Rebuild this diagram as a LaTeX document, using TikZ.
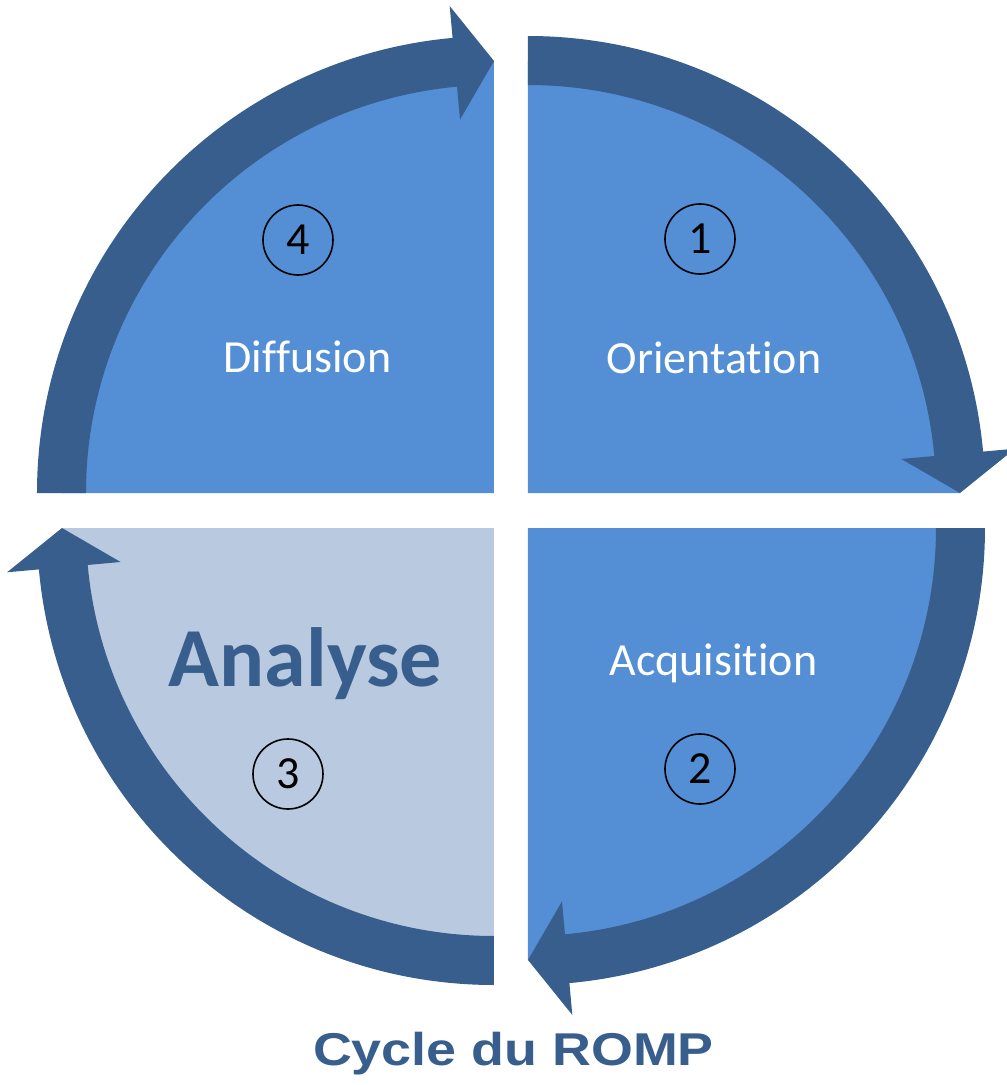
\documentclass[tikz,border=0pt]{standalone}
\usepackage{fontspec}
\setmainfont{Carlito}[Ligatures={NoCommon}]
\newfontfamily\titlefont{Liberation Sans Bold}[FakeStretch=1.17]
\usepackage{tikz}
\usetikzlibrary{calc}
\definecolor{ringblue}{RGB}{55,94,140}
\definecolor{quadblue}{RGB}{84,142,213}
\definecolor{paleblue}{RGB}{185,201,224}

\begin{document}
\begin{tikzpicture}
    [   x=1pt, y=1pt
    ,   stage/.style=
        {   anchor=base
        ,   inner sep=0pt
        ,   text=white
        ,   font=\fontsize{46}{50}\selectfont
        }
    ,   num/.style=
        {   draw
        ,   circle
        ,   line width=1.6pt
        ,   minimum size=70pt
        ,   inner sep=0pt
        ,   font=\fontsize{46}{50}\selectfont
        }
    ]
    \useasboundingbox (-511,-574.5) rectangle (496,510.5);
    % quarter disks
    \foreach\cx/\cy/\a/\col in {17/17.5/90/quadblue,17/-17.5/0/quadblue,-17/-17.5/-90/paleblue,-17/17.5/180/quadblue}
    {   \pgfmathsetmacro{\e}{\a-90}
        \fill[fill=\col] (\cx,\cy) -- ++(\e:432) arc[start angle=\e, end angle=\a, radius=432pt] -- cycle;
    }
    % ring arrows
    \foreach\cx/\cy/\a in {17/17.5/90,17/-17.5/0,-17/-17.5/-90,-17/17.5/180}
    {   \pgfmathsetmacro{\e}{\a-90}
        \pgfmathsetmacro{\h}{\e+5.2}
        \begin{scope}[shift={(\cx,\cy)}]
            \fill[ringblue]
            (\a:457pt)
                arc[start angle=\a, end angle=\h, radius=457pt]
            -- (\h:489pt) -- (\e:432pt) -- (\h:375pt) -- (\h:408pt)
                arc[start angle=\h, end angle=\a, radius=408pt]
            -- cycle;
        \end{scope}
    }
    \node[num] (N1) at (189,271.5) {1};
    \node[num] (N2) at (189,-258.5) {2};
    \node[num] (N3) at (-223,-263.5) {3};
    \node[num] (N4) at (-213,270.5) {4};
    \node[stage] (orient) at (203,137.5) {Orientation};
    \node[stage] (acq) at (202.5,-164.5) {Acquisition};
    \node[stage] (diff) at (-203.5,138.5) {Diffusion};
    \node[stage, text=ringblue, font=\fontsize{84}{90}\selectfont\bfseries] (anal) at (-205.5,-175.5) {Analyse};
    \node[anchor=base, inner sep=0pt, text=ringblue, font=\fontsize{46}{50}\selectfont\titlefont] (title) at (2.5,-554.5) {Cycle du ROMP};
\end{tikzpicture}
\end{document}
